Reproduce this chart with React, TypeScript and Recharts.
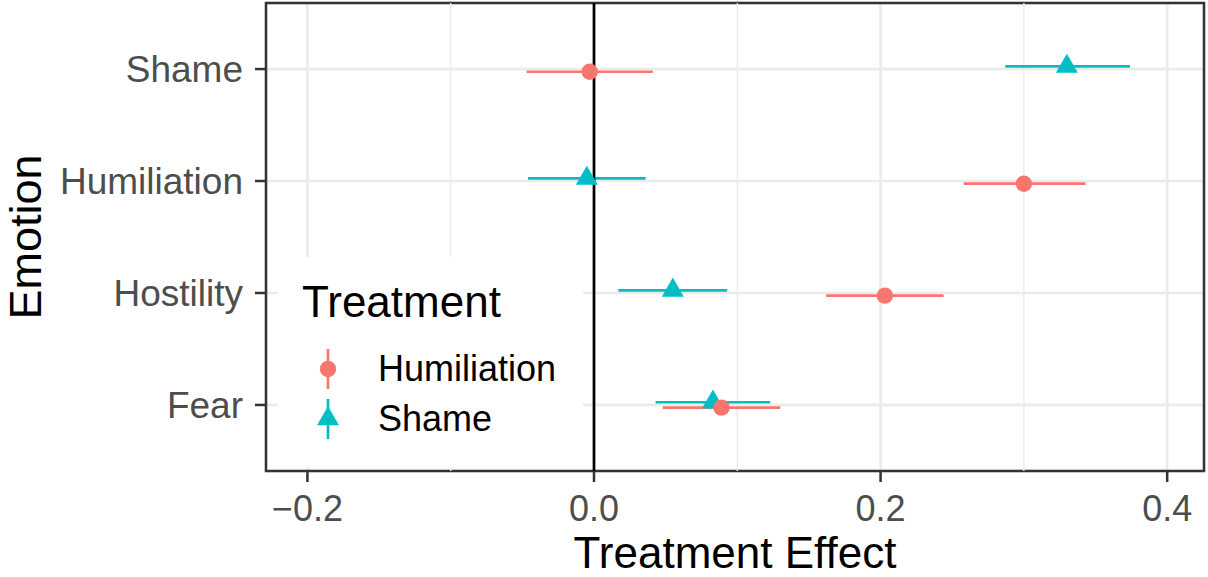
import {
  ScatterChart,
  Scatter,
  XAxis,
  YAxis,
  CartesianGrid,
  ReferenceLine,
  ReferenceArea,
  ErrorBar,
  Legend,
  Label,
} from "recharts";

const FONT = '"Liberation Sans", Arial, Helvetica, sans-serif';

// emotions from bottom row to top row
const emotions = ["Fear", "Hostility", "Humiliation", "Shame"];
const treatments = ["Humiliation", "Shame"];

// estimates with 95% interval bounds, same order as emotions
const humiliationEst = [0.089, 0.203, 0.3, -0.003];
const humiliationLow = [0.048, 0.162, 0.258, -0.047];
const humiliationHigh = [0.13, 0.244, 0.343, 0.041];

const shameEst = [0.083, 0.055, -0.005, 0.33];
const shameLow = [0.043, 0.017, -0.046, 0.287];
const shameHigh = [0.123, 0.093, 0.036, 0.374];

const xTicks = [-0.2, 0, 0.2, 0.4];
const xMinorTicks = [-0.1, 0.1, 0.3];
const yTicks = [1, 2, 3, 4];

const X_DOMAIN: [number, number] = [-0.2289, 0.4257];
const Y_DOMAIN: [number, number] = [0.41, 4.59];
const DODGE = 0.024;

const COLORS: Record<string, string> = {
  Humiliation: "#F8766D",
  Shame: "#00BFC4",
};

function buildRows(est: number[], low: number[], high: number[], shift: number) {
  return emotions.map((emotion, i) => ({
    emotion,
    x: est[i],
    y: i + 1 + shift,
    err: [est[i] - low[i], high[i] - est[i]],
  }));
}

const humiliationRows = buildRows(humiliationEst, humiliationLow, humiliationHigh, -DODGE);
const shameRows = buildRows(shameEst, shameLow, shameHigh, DODGE);

const formatX = (v: number) =>
  v < 0 ? "\u2212" + Math.abs(v).toFixed(1) : v.toFixed(1);

// equilateral triangle centred on its centroid
function trianglePoints(cx: number, cy: number, side: number) {
  const h = (side * Math.sqrt(3)) / 2;
  return `${cx},${cy - (2 * h) / 3} ${cx + side / 2},${cy + h / 3} ${cx - side / 2},${cy + h / 3}`;
}

const CircleDot = (p: any) => <circle cx={p.cx} cy={p.cy} r={8.2} fill={COLORS.Humiliation} />;
const TriangleDot = (p: any) => (
  <polygon points={trianglePoints(p.cx, p.cy, 22)} fill={COLORS.Shame} />
);

function KeyGlyph({ name }: { name: string }) {
  const color = COLORS[name];
  return (
    <svg width={42} height={50} style={{ marginLeft: 5, display: "block" }}>
      <line x1={21} x2={21} y1={5} y2={45} stroke={color} strokeWidth={2.7} />
      {name === "Shame" ? (
        <polygon points={trianglePoints(21, 25, 22)} fill={color} />
      ) : (
        <circle cx={21} cy={25} r={8.2} fill={color} />
      )}
    </svg>
  );
}

function TreatmentLegend() {
  return (
    <div
      style={{
        background: "#fff",
        width: 305,
        height: 210,
        boxSizing: "border-box",
        paddingLeft: 24,
        paddingTop: 22,
        fontFamily: FONT,
        color: "#000",
      }}
    >
      <div style={{ fontSize: 44, lineHeight: "45px" }}>Treatment</div>
      <div style={{ marginTop: 20 }}>
        {treatments.map((name) => (
          <div key={name} style={{ display: "flex", alignItems: "center", height: 50 }}>
            <KeyGlyph name={name} />
            <span style={{ fontSize: 36, lineHeight: "36px", marginLeft: 29 }}>{name}</span>
          </div>
        ))}
      </div>
    </div>
  );
}

export default function App() {
  return (
    <div
      style={{
        position: "absolute",
        left: 0,
        top: 0,
        width: 1208,
        height: 577,
        background: "#fff",
        fontFamily: FONT,
      }}
    >
      <ScatterChart width={1208} height={577} margin={{ top: 3, right: 4, bottom: 0, left: 0 }}>
        <CartesianGrid stroke="#EBEBEB" strokeWidth={2.7} />
        {xMinorTicks.map((v) => (
          <ReferenceLine key={v} x={v} stroke="#EBEBEB" strokeWidth={1.4} />
        ))}
        <XAxis
          type="number"
          dataKey="x"
          domain={X_DOMAIN}
          allowDataOverflow
          ticks={xTicks}
          tickFormatter={formatX}
          height={106}
          axisLine={false}
          tickSize={11}
          tickMargin={13}
          tickLine={{ stroke: "#333333", strokeWidth: 2.5 }}
          tick={{ fill: "#4D4D4D", fontSize: 36, fontFamily: FONT }}
        >
          <Label
            content={(p: any) => {
              const vb = p.viewBox;
              return (
                <text
                  x={vb.x + vb.width / 2}
                  y={vb.y + 97}
                  textAnchor="middle"
                  fontSize={44}
                  fontFamily={FONT}
                  fill="#000"
                >
                  Treatment Effect
                </text>
              );
            }}
          />
        </XAxis>
        <YAxis
          type="number"
          dataKey="y"
          domain={Y_DOMAIN}
          allowDataOverflow
          ticks={yTicks}
          tickFormatter={(v: number) => emotions[Math.round(v) - 1]}
          width={266}
          axisLine={false}
          tickSize={11}
          tickMargin={12}
          tickLine={{ stroke: "#333333", strokeWidth: 2.5 }}
          tick={{ fill: "#4D4D4D", fontSize: 37, fontFamily: FONT }}
        >
          <Label
            content={(p: any) => {
              const vb = p.viewBox;
              const cx = vb.x + 41;
              const cy = vb.y + vb.height / 2;
              return (
                <text
                  x={cx}
                  y={cy}
                  transform={`rotate(-90 ${cx} ${cy})`}
                  textAnchor="middle"
                  fontSize={45}
                  fontFamily={FONT}
                  fill="#000"
                >
                  Emotion
                </text>
              );
            }}
          />
        </YAxis>
        <Scatter
          name="Shame"
          data={shameRows}
          fill={COLORS.Shame}
          shape={TriangleDot}
          isAnimationActive={false}
        >
          <ErrorBar
            dataKey="err"
            direction="x"
            width={0}
            stroke={COLORS.Shame}
            strokeWidth={2.7}
            isAnimationActive={false}
          />
        </Scatter>
        <Scatter
          name="Humiliation"
          data={humiliationRows}
          fill={COLORS.Humiliation}
          shape={CircleDot}
          isAnimationActive={false}
        >
          <ErrorBar
            dataKey="err"
            direction="x"
            width={0}
            stroke={COLORS.Humiliation}
            strokeWidth={2.7}
            isAnimationActive={false}
          />
        </Scatter>
        <ReferenceLine x={0} stroke="#000" strokeWidth={2.7} />
        <ReferenceArea
          x1={X_DOMAIN[0]}
          x2={X_DOMAIN[1]}
          y1={Y_DOMAIN[0]}
          y2={Y_DOMAIN[1]}
          fill="none"
          stroke="#333333"
          strokeWidth={2.5}
        />
        <Legend
          layout="vertical"
          align="center"
          verticalAlign="middle"
          content={<TreatmentLegend />}
          wrapperStyle={{ left: 278, top: 257, width: 305, height: 210 }}
        />
      </ScatterChart>
    </div>
  );
}
